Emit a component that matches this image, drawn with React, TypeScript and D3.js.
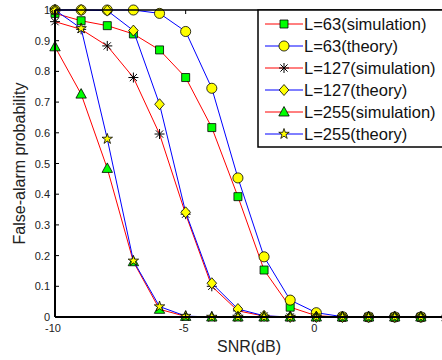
import React from 'react';
import * as d3 from 'd3';

// SNR points (dB)
const snr = [-10, -9, -8, -7, -6, -5, -4, -3, -2, -1, 0, 1, 2, 3, 4, 5];

// false-alarm probability
const l63Sim = [0.989, 0.965, 0.949, 0.922, 0.87, 0.78, 0.617, 0.392, 0.153, 0.032, 0.004, 0, 0, 0, 0, 0];
const l63Theory = [1.0, 1.0, 1.0, 1.0, 0.989, 0.93, 0.745, 0.453, 0.196, 0.055, 0.014, 0.001, 0, 0, 0, 0];
const l127Sim = [0.962, 0.937, 0.883, 0.78, 0.596, 0.335, 0.1, 0.02, 0.003, 0, 0, 0, 0, 0, 0, 0];
const l127Theory = [1.0, 1.0, 0.998, 0.933, 0.693, 0.341, 0.11, 0.026, 0.004, 0, 0, 0, 0, 0, 0, 0];
const l255Sim = [0.88, 0.726, 0.484, 0.18, 0.025, 0.002, 0, 0, 0, 0, 0, 0, 0, 0, 0, 0];
const l255Theory = [1.0, 0.94, 0.58, 0.183, 0.034, 0.003, 0, 0, 0, 0, 0, 0, 0, 0, 0, 0];

const seriesNames = [
  'L=63(simulation)',
  'L=63(theory)',
  'L=127(simulation)',
  'L=127(theory)',
  'L=255(simulation)',
  'L=255(theory)',
];

// the x=5 tick sits on the cropped right edge, so it has no visible label
const xTicks = [-10, -5, 0, 5];
const xTickLabels = ['-10', '-5', '0', ''];
const yTicks = [0, 0.1, 0.2, 0.3, 0.4, 0.5, 0.6, 0.7, 0.8, 0.9, 1];

const W = 442;
const H = 360;
const font = 'Arial, "Liberation Sans", sans-serif';

const x = d3.scaleLinear().domain([-10, 5]).range([55, 447]);
const y = d3.scaleLinear().domain([0, 1]).range([317, 10]);

type Marker = 'square' | 'circle' | 'asterisk' | 'diamond' | 'triangle' | 'star';

const series = [
  { name: seriesNames[0], values: l63Sim, line: '#ff0000', marker: 'square' as Marker, fill: '#00ff00' },
  { name: seriesNames[1], values: l63Theory, line: '#0000ff', marker: 'circle' as Marker, fill: '#ffff00' },
  { name: seriesNames[2], values: l127Sim, line: '#ff0000', marker: 'asterisk' as Marker, fill: 'none' },
  { name: seriesNames[3], values: l127Theory, line: '#0000ff', marker: 'diamond' as Marker, fill: '#ffff00' },
  { name: seriesNames[4], values: l255Sim, line: '#ff0000', marker: 'triangle' as Marker, fill: '#00ff00' },
  { name: seriesNames[5], values: l255Theory, line: '#0000ff', marker: 'star' as Marker, fill: '#ffff00' },
];

function markerPath(m: Marker): string {
  switch (m) {
    case 'square':
      return 'M-4,-4H4V4H-4Z';
    case 'circle':
      return d3.symbol(d3.symbolCircle, 80)() as string;
    case 'diamond':
      return 'M0,-5.5L4.8,0L0,5.5L-4.8,0Z';
    case 'triangle':
      return 'M0,-5.5L5.2,4L-5.2,4Z';
    case 'star':
      return d3.symbol(d3.symbolStar, 34)() as string;
    case 'asterisk':
      return 'M-5,0H5M0,-5V5M-3.6,-3.6L3.6,3.6M-3.6,3.6L3.6,-3.6';
  }
}

const Mark = ({ m, fill, cx, cy }: { m: Marker; fill: string; cx: number; cy: number }) => (
  <path
    d={markerPath(m)}
    transform={`translate(${cx},${cy})`}
    fill={fill}
    stroke="#000"
    strokeWidth={m === 'asterisk' ? 1 : 0.8}
  />
);

const App = () => {
  const line = d3
    .line<number>()
    .x((_, i) => x(snr[i]))
    .y((d) => y(d));

  const legendX = 258;
  const legendTop = 10;
  const rowY = (i: number) => 24 + i * 22;

  return (
    <svg
      width={W}
      height={H}
      style={{ position: 'absolute', left: 0, top: 0, background: '#fff' }}
      fontFamily={font}
    >
      <rect x={0} y={0} width={W} height={H} fill="#fff" />

      {/* series */}
      {series.map((s) => (
        <g key={s.name}>
          <path d={line(s.values) as string} fill="none" stroke={s.line} strokeWidth={1} />
          {s.values.map((v, i) => (
            <Mark key={i} m={s.marker} fill={s.fill} cx={x(snr[i])} cy={y(v)} />
          ))}
        </g>
      ))}

      {/* axes box */}
      <line x1={55} x2={W} y1={y(1)} y2={y(1)} stroke="#000" strokeWidth={1.5} />
      <line x1={55} x2={W} y1={y(0)} y2={y(0)} stroke="#000" strokeWidth={2} />
      <line x1={55} x2={55} y1={y(1)} y2={y(0)} stroke="#000" strokeWidth={2} />

      {/* y ticks */}
      {yTicks.map((t) => (
        <g key={t}>
          <line x1={55} x2={59} y1={y(t)} y2={y(t)} stroke="#000" strokeWidth={1} />
          <text x={50} y={y(t) + 4} textAnchor="end" fontSize={11} fill="#222">
            {d3.format('~g')(t)}
          </text>
        </g>
      ))}

      {/* x ticks */}
      {xTicks.map((t, i) => (
        <g key={t}>
          <line x1={x(t)} x2={x(t)} y1={y(0)} y2={y(0) - 4} stroke="#000" strokeWidth={1} />
          <line x1={x(t)} x2={x(t)} y1={y(1)} y2={y(1) + 4} stroke="#000" strokeWidth={1} />
          {xTickLabels[i] && (
            <text x={x(t) - 2} y={332} textAnchor="middle" fontSize={11} fill="#222">
              {xTickLabels[i]}
            </text>
          )}
        </g>
      ))}

      {/* axis labels */}
      <text x={249} y={352} textAnchor="middle" fontSize={16} fill="#222">
        SNR(dB)
      </text>
      <text
        transform={`translate(25,${(y(0) + y(1)) / 2}) rotate(-90)`}
        textAnchor="middle"
        fontSize={16}
        fill="#222"
      >
        False-alarm probability
      </text>

      {/* legend */}
      <rect x={legendX} y={legendTop} width={W} height={137} fill="#fff" stroke="#000" strokeWidth={1.5} />
      {series.map((s, i) => (
        <g key={s.name}>
          <line x1={265} x2={303} y1={rowY(i)} y2={rowY(i)} stroke={s.line} strokeWidth={1} />
          <Mark m={s.marker} fill={s.fill} cx={284} cy={rowY(i)} />
          <text x={304} y={rowY(i) + 5.5} fontSize={16.5} fill="#111">
            {s.name}
          </text>
        </g>
      ))}
    </svg>
  );
};

export default App;
